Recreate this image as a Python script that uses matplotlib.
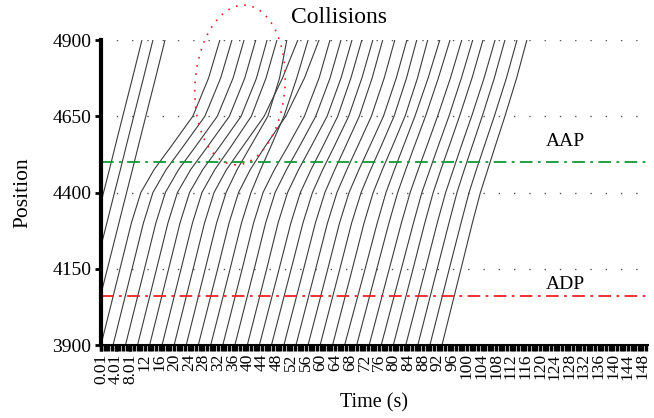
import matplotlib
matplotlib.use('Agg')
import matplotlib.pyplot as plt
from matplotlib.patches import Ellipse
from matplotlib.ticker import MultipleLocator

plt.rcParams['font.family'] = ['Liberation Serif', 'DejaVu Serif']

# positions (m) at which each trajectory time is read
positions = [3900, 4150, 4300, 4400, 4475, 4550, 4650, 4775, 4900]

# time (s) of each vehicle at those positions
traj = [
    [-9.8, -4.55, -1.4, 0.7, 2.3, 3.85, 5.95, 8.6, 11.2],
    [-6.8, -1.55, 1.6, 3.7, 5.3, 6.85, 8.95, 11.6, 14.2],
    [-3.5, 1.75, 4.9, 7.0, 8.6, 10.15, 12.25, 14.9, 17.5],
    [0.0, 5.2, 8.3, 10.9, 14.5, 19.1, 25.1, 29.4, 32.5],
    [3.3, 8.5, 11.6, 14.2, 17.8, 22.4, 28.4, 32.7, 35.8],
    [6.7, 11.9, 15.0, 17.6, 21.2, 25.8, 31.8, 36.1, 39.1],
    [10.0, 15.2, 18.3, 20.9, 24.5, 29.1, 35.1, 39.3, 42.3],
    [13.3, 18.5, 21.6, 24.2, 27.8, 32.4, 38.3, 42.5, 45.4],
    [16.7, 21.9, 25.0, 27.6, 31.1, 35.5, 41.1, 45.1, 48.1],
    [20.0, 25.2, 28.3, 30.9, 34.3, 38.7, 44.6, 49.6, 53.8],
    [23.3, 28.5, 31.6, 34.2, 37.2, 40.8, 45.6, 48.8, 50.8],
    [26.6, 31.9, 35.0, 37.6, 40.8, 44.8, 50.5, 55.6, 59.6],
    [30.0, 35.3, 38.4, 41.0, 43.6, 46.4, 50.0, 53.5, 56.6],
    [33.3, 38.6, 41.7, 44.3, 47.4, 51.0, 55.6, 59.6, 62.6],
    [36.6, 41.9, 45.0, 47.6, 50.7, 54.2, 58.7, 62.6, 65.6],
    [40.0, 45.3, 48.4, 51.0, 54.0, 57.4, 61.8, 65.6, 68.6],
    [43.3, 48.7, 51.9, 54.5, 57.4, 60.6, 64.7, 68.3, 71.3],
    [46.6, 52.0, 55.2, 57.8, 60.6, 63.7, 67.7, 71.3, 74.3],
    [50.0, 55.4, 58.6, 61.2, 63.9, 66.8, 70.6, 74.1, 77.0],
    [53.3, 58.7, 61.9, 64.5, 67.2, 70.1, 73.9, 77.4, 80.3],
    [56.6, 62.0, 65.2, 67.8, 70.5, 73.4, 77.2, 80.7, 83.6],
    [59.9, 65.3, 68.5, 71.1, 73.7, 76.5, 80.1, 83.5, 86.3],
    [63.3, 68.7, 71.9, 74.4, 76.9, 79.6, 83.1, 86.5, 89.3],
    [66.6, 72.2, 75.5, 77.9, 80.2, 82.6, 85.8, 89.4, 92.6],
    [69.9, 75.4, 78.7, 81.1, 83.3, 85.6, 88.7, 92.2, 95.4],
    [73.3, 78.8, 82.1, 84.5, 86.7, 89.0, 92.0, 95.5, 98.6],
    [76.6, 82.1, 85.4, 87.7, 89.9, 92.1, 95.1, 98.5, 101.6],
    [79.9, 85.3, 88.5, 90.8, 92.9, 95.1, 98.0, 101.4, 104.4],
    [83.3, 88.7, 91.9, 94.2, 96.3, 98.4, 101.3, 104.7, 107.7],
    [86.6, 91.9, 95.1, 97.3, 99.3, 101.4, 104.2, 107.5, 110.4],
    [89.9, 95.2, 98.4, 100.6, 102.6, 104.7, 107.5, 110.8, 113.7],
    [93.2, 98.4, 101.5, 103.7, 105.7, 107.7, 110.4, 113.6, 116.4],
]

aap = 4500
adp = 4060
xticks = [0.01, 4.01, 8.01] + list(range(12, 149, 4))
xlabels = ['0.01', '4.01', '8.01'] + [str(v) for v in range(12, 149, 4)]
yticks = [3900, 4150, 4400, 4650, 4900]

fig = plt.figure(figsize=(6.54, 4.18), dpi=100)
ax = fig.add_axes([0.1544, 0.1746, 0.8364, 0.7297])

for tr in traj:
    ax.plot(tr, positions, color='#3c3c3c', lw=0.8)

ax.axhline(aap, color='#119933', lw=1.3, ls=(0, (7, 3, 1.5, 3)))
ax.axhline(adp, color='#ee2222', lw=1.3, ls=(0, (7, 3, 1.5, 3)))
ax.text(126.8, aap + 66, 'AAP', ha='center', va='center', fontsize=14)
ax.text(126.8, adp + 37, 'ADP', ha='center', va='center', fontsize=14)

for y in yticks[1:]:
    ax.axhline(y, color='#555555', lw=1.0, ls=(0, (1, 10)), zorder=0)

ax.set_xlim(0, 149.5)
ax.set_ylim(3900, 4900)
ax.set_xticks(xticks)
ax.set_xticklabels(xlabels, rotation=90, fontsize=12.5)
ax.xaxis.set_minor_locator(MultipleLocator(1))
ax.tick_params(axis='x', which='both', direction='out', length=4, width=2.4, pad=2)
ax.set_yticks(yticks)
ax.tick_params(axis='y', direction='out', length=4, width=2, labelsize=14, pad=3)
for s in ['top', 'right']:
    ax.spines[s].set_visible(False)
ax.spines['left'].set_linewidth(3)
ax.spines['bottom'].set_linewidth(1.5)

ax.set_xlabel('Time (s)', fontsize=14.5, labelpad=7)
ax.set_ylabel('Position', fontsize=15.5, labelpad=14)

ell = Ellipse((2.40, 3.33), 0.90, 1.60, angle=-4, transform=fig.dpi_scale_trans,
              fill=False, edgecolor='#ee2222', lw=1.2, ls=(0, (1, 4)), clip_on=False)
fig.add_artist(ell)
fig.text(0.518, 0.957, 'Collisions', ha='center', va='center', fontsize=17)

fig.savefig('out.png', dpi=100)
